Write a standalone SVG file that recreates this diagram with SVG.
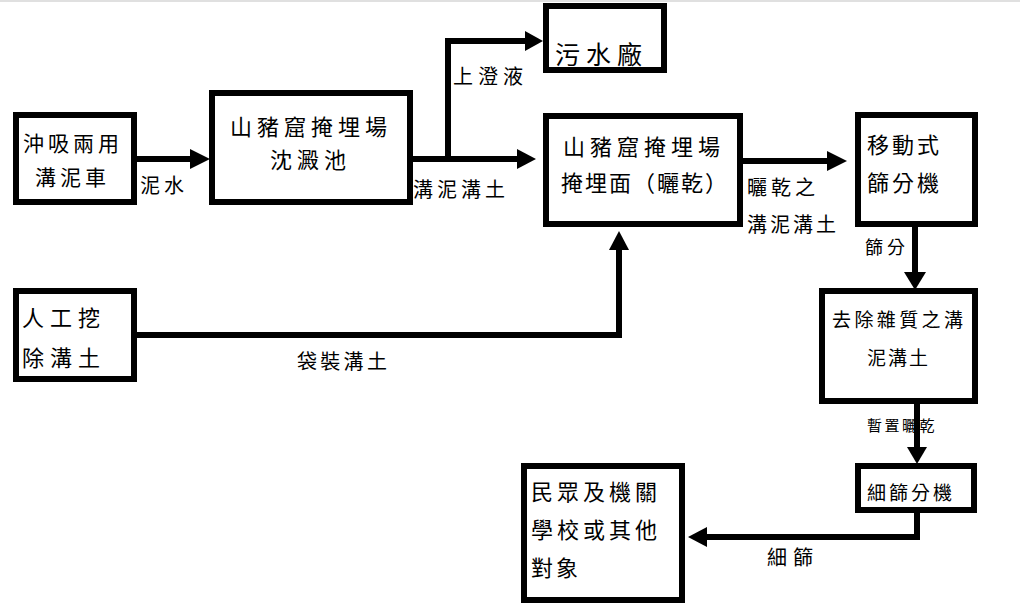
<svg xmlns="http://www.w3.org/2000/svg" width="1020" height="614" viewBox="0 0 1020 614">
<style>
.box{fill:#fff;stroke:#000;stroke-width:6}
.ln{fill:none;stroke:#000;stroke-width:6;stroke-linejoin:miter}
.hd{fill:#000;stroke:none}
text{font-family:"Noto Sans CJK TC","Noto Sans CJK SC",sans-serif;fill:#000}
.t22{font-size:22px}
.t20{font-size:20px}
</style>
<rect x="0" y="0" width="1020" height="614" fill="#fff"/>
<line x1="0" y1="1" x2="1020" y2="1" stroke="#e0e0e0" stroke-width="2"/>

<g id="node-truck">
<rect class="box" x="16" y="115" width="118" height="87"/>
<text x="23" y="151" style="font-size:21px;letter-spacing:4px">沖吸兩用</text>
<text x="35" y="185" style="font-size:21px;letter-spacing:4px">溝泥車</text>
</g>
<g id="node-pond">
<rect class="box" x="212" y="93" width="198" height="109"/>
<text class="t22" x="230" y="135" style="letter-spacing:5px">山豬窟掩埋場</text>
<text class="t22" x="270" y="168" style="letter-spacing:5px">沈澱池</text>
</g>
<g id="node-sewage">
<rect class="box" x="546" y="6" width="118" height="64"/>
<text x="555" y="64" style="font-size:25px;letter-spacing:6px">污水廠</text>
</g>
<g id="node-landfill">
<rect class="box" x="546" y="116" width="194" height="108"/>
<text class="t22" x="563" y="155" style="letter-spacing:5px">山豬窟掩埋場</text>
<text class="t22" x="561" y="191" style="letter-spacing:2px">掩埋面（曬乾）</text>
</g>
<g id="node-screen">
<rect class="box" x="858" y="115" width="117" height="109"/>
<text class="t22" x="867" y="153" style="letter-spacing:3px">移動式</text>
<text class="t22" x="867" y="191" style="letter-spacing:3px">篩分機</text>
</g>
<g id="node-clean">
<rect class="box" x="822" y="291" width="153" height="110"/>
<text x="832" y="327" style="font-size:19px;letter-spacing:3.4px">去除雜質之溝</text>
<text x="867" y="365" style="font-size:19px;letter-spacing:2px">泥溝土</text>
</g>
<g id="node-fine">
<rect class="box" x="858" y="466" width="116" height="44"/>
<text x="867" y="500" style="font-size:19px;letter-spacing:3px">細篩分機</text>
</g>
<g id="node-public">
<rect class="box" x="524" y="466" width="158" height="134"/>
<text class="t22" x="531" y="500" style="letter-spacing:4px">民眾及機關</text>
<text class="t22" x="531" y="538" style="letter-spacing:4px">學校或其他</text>
<text class="t22" x="531" y="576" style="letter-spacing:3px">對象</text>
</g>
<g id="node-manual">
<rect class="box" x="16" y="291" width="118" height="88"/>
<text class="t22" x="22" y="326" style="letter-spacing:6px">人工挖</text>
<text class="t22" x="22" y="366" style="letter-spacing:6px">除溝土</text>
</g>

<g id="connectors">
<line class="ln" x1="137" y1="159" x2="192" y2="159"/>
<polygon class="hd" points="190,149 210,159 190,169"/>
<text class="t20" x="140" y="193" style="letter-spacing:4px">泥水</text>

<line class="ln" x1="413" y1="159" x2="519" y2="159"/>
<polygon class="hd" points="517,149 536,159 517,169"/>
<text class="t20" x="413" y="197" style="letter-spacing:4px">溝泥溝土</text>

<polyline class="ln" points="448,159 448,41 527,41"/>
<polygon class="hd" points="525,31 543,41 525,51"/>
<text class="t20" x="453" y="84" style="letter-spacing:5px">上澄液</text>

<line class="ln" x1="743" y1="161" x2="829" y2="161"/>
<polygon class="hd" points="827,151 847,161 827,171"/>
<text class="t20" x="747" y="195" style="letter-spacing:4px">曬乾之</text>
<text class="t20" x="747" y="232" style="letter-spacing:3px">溝泥溝土</text>

<line class="ln" x1="915" y1="227" x2="915" y2="274"/>
<polygon class="hd" points="904,272 915,290 926,272"/>
<text x="865" y="254" style="font-size:18px;letter-spacing:4px">篩分</text>

<line class="ln" x1="917" y1="404" x2="917" y2="449"/>
<polygon class="hd" points="907,447 917,464 927,447"/>
<text x="867" y="431" style="font-size:15px;letter-spacing:2.5px">暫置曬乾</text>

<polyline class="ln" points="917,513 917,537 705,537"/>
<polygon class="hd" points="707,527 688,537 707,547"/>
<text class="t20" x="767" y="565" style="letter-spacing:6px">細篩</text>

<polyline class="ln" points="137,335 619,335 619,248"/>
<polygon class="hd" points="609,250 619,231 629,250"/>
<text class="t20" x="297" y="369" style="letter-spacing:3.3px">袋裝溝土</text>
</g>
</svg>
